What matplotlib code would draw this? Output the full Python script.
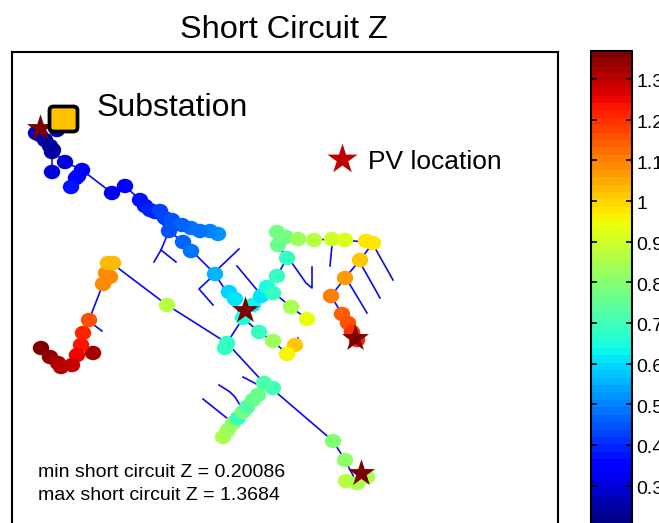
import matplotlib
matplotlib.use("Agg")

import matplotlib.pyplot as plt
from matplotlib.markers import MarkerStyle
from matplotlib.patches import FancyBboxPatch
from matplotlib.transforms import Affine2D, ScaledTranslation

plt.rcParams["font.family"] = ["Liberation Sans", "DejaVu Sans"]

W, H = 659, 523

# node positions (image pixels) and short circuit Z
node_x = [57, 36, 40, 45, 50, 53, 52, 65, 82, 78, 76, 71, 52, 112, 125, 140, 145, 150, 155, 160, 165, 172,
          218, 210, 200, 191, 182, 169, 183, 191, 215, 229, 235, 253, 243, 261, 267, 273, 277, 287,
          277, 286, 278, 298, 314, 332, 345, 366, 373, 360, 345, 331, 342, 348, 352, 357,
          291, 307, 259, 273, 295, 287, 167, 227, 225,
          223, 228, 233, 238, 243, 247, 253, 258, 273, 264, 333, 345, 346, 357, 367,
          106, 110, 103, 108, 113, 89, 83, 93, 81, 77, 72, 41, 50, 58, 61]
node_y = [130, 133, 135, 140, 146, 150, 152, 162, 170, 176, 178, 187, 172, 193, 186, 200, 206, 210, 212, 211, 218, 220,
          234, 231, 231, 228, 225, 231, 242, 251, 274, 292, 299, 305, 318, 296, 287, 293, 276, 258,
          232, 237, 245, 239, 240, 239, 240, 241, 243, 260, 278, 296, 314, 323, 332, 340,
          307, 319, 332, 341, 345, 354, 305, 343, 348,
          437, 430, 423, 418, 412, 407, 400, 395, 388, 383, 441, 460, 481, 483, 477,
          273, 277, 284, 263, 263, 320, 333, 353, 345, 355, 365, 348, 357, 363, 367]
node_z = [0.29, 0.29, 0.27, 0.25, 0.23, 0.23, 0.24, 0.30, 0.33, 0.34, 0.35, 0.37, 0.31, 0.32, 0.34, 0.37, 0.38, 0.39, 0.40, 0.42, 0.43, 0.45,
          0.52, 0.50, 0.49, 0.48, 0.47, 0.45, 0.47, 0.49, 0.55, 0.59, 0.61, 0.63, 0.64, 0.62, 0.65, 0.68, 0.68, 0.69,
          0.77, 0.77, 0.75, 0.83, 0.87, 0.91, 0.93, 0.97, 0.97, 1.02, 1.06, 1.10, 1.14, 1.16, 1.19, 1.22,
          0.85, 0.94, 0.69, 0.83, 1.02, 0.95, 0.86, 0.68, 0.68,
          0.85, 0.83, 0.82, 0.69, 0.78, 0.72, 0.76, 0.76, 0.71, 0.72, 0.80, 0.82, 0.86, 0.85, 0.84,
          1.08, 1.09, 1.09, 1.03, 1.03, 1.16, 1.21, 1.32, 1.23, 1.25, 1.29, 1.36, 1.35, 1.33, 1.31]

# feeder wires (image pixels)
wire_x = [[40, 52, 65, 82, 112, 125, 140, 169, 183, 215, 243, 261, 277, 287, 278, 286, 298, 314, 332, 345, 373, 360, 345, 331, 342, 357],
          [52, 52], [82, 71], [172, 218],
          [169, 161, 154], [161, 176],
          [239, 219], [215, 199, 213], [237, 257],
          [118, 167, 227, 264], [227, 243],
          [243, 264, 277, 333, 345, 357],
          [219, 230, 235, 240], [203, 228],
          [292, 306, 312, 312], [332, 330],
          [375, 393], [362, 380], [349, 367],
          [267, 291, 307], [243, 259, 273, 287], [295, 298],
          [103, 89, 81], [94, 102], [81, 93]]
wire_y = [[128, 150, 162, 170, 193, 186, 200, 231, 242, 274, 318, 296, 276, 258, 245, 237, 239, 240, 239, 240, 243, 260, 278, 296, 314, 340],
          [150, 172], [170, 187], [220, 234],
          [231, 250, 262], [250, 262],
          [249, 268], [274, 289, 305], [266, 290],
          [268, 305, 343, 383], [343, 318],
          [377, 388, 393, 441, 460, 483],
          [385, 392, 397, 405], [399, 419],
          [263, 283, 288, 267], [245, 266],
          [248, 280], [266, 298], [283, 313],
          [287, 307, 319], [318, 332, 341, 354], [345, 338],
          [284, 320, 345], [325, 331], [345, 353]]

pv_x = [40, 245, 355, 361]
pv_y = [128, 310, 338, 473]

z_min = 0.20086
z_max = 1.3684
cbar_ticks = [0.3, 0.4, 0.5, 0.6, 0.7, 0.8, 0.9, 1, 1.1, 1.2, 1.3]
cbar_labels = ["0.3", "0.4", "0.5", "0.6", "0.7", "0.8", "0.9", "1", "1.1", "1.2", "1.3"]

fig = plt.figure(figsize=(W / 100, H / 100), dpi=100)

# main axes runs slightly past the bottom of the picture, as in the reference
top, bottom = 52, 526
ax = fig.add_axes([12 / W, 1 - bottom / H, 546 / W, (bottom - top) / H])
ax.set_xlim(12, 558)
ax.set_ylim(bottom, top)
ax.set_xticks([])
ax.set_yticks([])
for s in ax.spines.values():
    s.set_linewidth(1.5)

for xs, ys in zip(wire_x, wire_y):
    ax.plot(xs, ys, color="#0a0aee", lw=1.2, zorder=1)

cmap = plt.get_cmap("jet", 64)
# dots are a little wider than tall in the reference
dot = MarkerStyle("o", transform=Affine2D().scale(1.08, 0.95))
sc = ax.scatter(node_x, node_y, c=node_z, s=120, marker=dot, cmap=cmap, vmin=z_min, vmax=z_max,
                linewidths=0, zorder=2)
ax.scatter(pv_x, pv_y, marker="*", s=420, color="#7b0000", linewidths=0, zorder=3)

ax.add_patch(FancyBboxPatch((49.5, 106.5), 28, 25, boxstyle="round,pad=0,rounding_size=4",
                            fc="#ffc000", ec="black", lw=2.7, zorder=4))
ax.text(97, 108, "Substation", fontsize=23, va="center", zorder=5)
ax.scatter([342], [159], marker="*", s=520, color="#c00000", linewidths=0, zorder=3)
ax.text(368, 162, "PV location", fontsize=19, va="center")
ax.text(38, 473, "min short circuit Z = 0.20086", fontsize=14, va="center")
ax.text(38, 496, "max short circuit Z = 1.3684", fontsize=14, va="center")
fig.text(284 / W, 1 - 30 / H, "Short Circuit Z", fontsize=23.4, ha="center", va="center")

cax = fig.add_axes([591 / W, 1 - bottom / H, 41 / W, (bottom - 51) / H])
cb = fig.colorbar(sc, cax=cax)
cb.set_ticks(cbar_ticks)
cb.set_ticklabels(cbar_labels)
cb.outline.set_linewidth(1.5)
cax.tick_params(axis="y", direction="in", length=4.5, width=1.2, left=True, right=True,
                labelsize=14, pad=3)
# labels sit 2 px lower than matplotlib centres them
nudge = ScaledTranslation(0, -2 / 100, fig.dpi_scale_trans)
for lab in cax.get_yticklabels():
    lab.set_transform(lab.get_transform() + nudge)

fig.savefig("out.png", dpi=100)
